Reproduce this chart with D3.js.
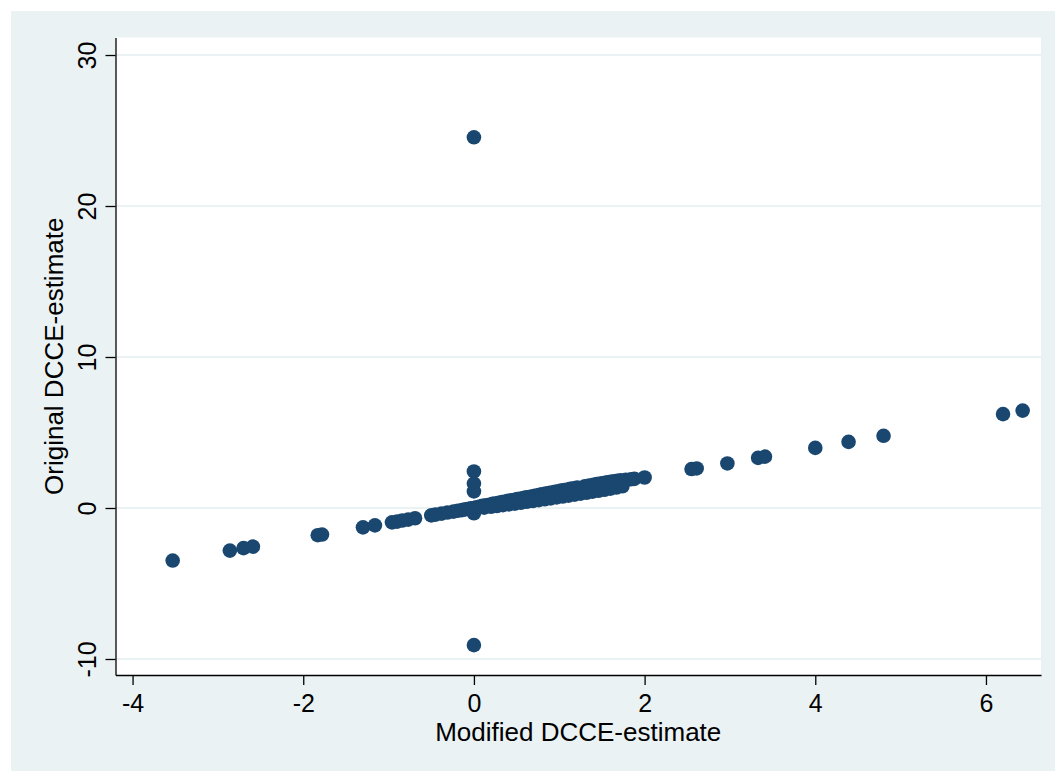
<!DOCTYPE html>
<html>
<head>
<meta charset="utf-8">
<script src="https://cdn.jsdelivr.net/npm/d3@7"></script>
<style>
  body { margin: 0; background: #fff; }
  text { font-family: "Liberation Sans", Arial, Helvetica, sans-serif; fill: #000; }
</style>
</head>
<body>
<script>
const outerWidth = 1055;
const outerHeight = 771;
const margin = { left: 115.5, top: 37.5, right: 14, bottom: 96 };

const innerWidth = outerWidth - margin.left - margin.right;
const innerHeight = outerHeight - margin.top - margin.bottom;

const xAxisLabelText = "Modified DCCE-estimate";
const yAxisLabelText = "Original DCCE-estimate";

const xTicks = [-4, -2, 0, 2, 4, 6];
const yTicks = [-10, 0, 10, 20, 30];

// estimates
const modifiedEst = [
  -3.53, -2.86, -2.70, -2.59, -1.83, -1.78, -1.30, -1.16,
  -0.96, -0.90, -0.84, -0.77, -0.69, -0.50, -0.45, -0.38, -0.31,
  -0.24, -0.19, -0.14, -0.10, -0.06, -0.03, 0.00,
  0.03, 0.07, 0.10, 0.14, 0.18, 0.22, 0.25, 0.29, 0.33, 0.37,
  0.40, 0.44, 0.48, 0.51, 0.55, 0.59, 0.62, 0.66, 0.70, 0.73,
  0.77, 0.80, 0.84, 0.88, 0.91, 0.95, 0.99, 1.02, 1.06, 1.10,
  1.13, 1.17, 1.21, 1.30, 1.35, 1.40, 1.44, 1.48, 1.52, 1.56,
  1.60, 1.64, 1.68, 1.72, 1.78, 1.84, 1.88,
  0.12, 0.20, 0.27, 0.34, 0.41, 0.48, 0.55, 0.62, 0.69, 0.76,
  0.83, 0.90, 0.97, 1.04, 1.11, 1.18, 1.25, 1.32, 1.39, 1.46,
  1.53, 1.60, 1.67, 1.74,
  2.00, 2.55, 2.61, 2.97, 3.33, 3.41, 4.00, 4.39, 4.80, 6.20, 6.43,
  0, 0, 0, 0, 0, 0
];
const originalEst = [
  -3.48, -2.82, -2.66, -2.56, -1.80, -1.76, -1.28, -1.15,
  -0.95, -0.90, -0.83, -0.77, -0.68, -0.49, -0.44, -0.37, -0.30,
  -0.24, -0.18, -0.14, -0.09, -0.06, -0.02, 0.00,
  0.05, 0.09, 0.14, 0.18, 0.22, 0.27, 0.30, 0.35, 0.39, 0.43,
  0.47, 0.51, 0.55, 0.59, 0.63, 0.67, 0.71, 0.75, 0.79, 0.83,
  0.87, 0.91, 0.95, 0.99, 1.03, 1.07, 1.11, 1.15, 1.19, 1.23,
  1.27, 1.31, 1.35, 1.44, 1.49, 1.54, 1.58, 1.62, 1.66, 1.70,
  1.74, 1.77, 1.80, 1.83, 1.86, 1.90, 1.93,
  0.02, 0.08, 0.13, 0.19, 0.24, 0.29, 0.35, 0.41, 0.46, 0.52,
  0.58, 0.64, 0.70, 0.76, 0.82, 0.88, 0.95, 1.01, 1.08, 1.14,
  1.21, 1.28, 1.36, 1.44,
  2.02, 2.58, 2.62, 2.95, 3.32, 3.40, 3.98, 4.38, 4.78, 6.22, 6.45,
  24.55, 2.42, 1.62, 1.10, -0.35, -9.08
];

const data = modifiedEst.map((m, i) => ({ modified: m, original: originalEst[i] }));

const svg = d3.select("body").append("svg")
  .attr("width", outerWidth)
  .attr("height", outerHeight);

// stata-ish background
svg.append("rect")
  .attr("x", 11).attr("y", 11)
  .attr("width", outerWidth - 11).attr("height", outerHeight - 11)
  .attr("fill", "#eaf2f3");

const g = svg.append("g")
  .attr("transform", `translate(${margin.left}, ${margin.top})`);

g.append("rect")
  .attr("width", innerWidth)
  .attr("height", innerHeight)
  .attr("fill", "#fff");

const xScale = d3.scaleLinear().domain([-4.2, 6.645]).range([0, innerWidth]);
const yScale = d3.scaleLinear().domain([-11.06, 31.16]).range([innerHeight, 0]);

// horizontal grid
g.selectAll("line.grid").data(yTicks).enter().append("line")
  .attr("class", "grid")
  .attr("x1", 0).attr("x2", innerWidth)
  .attr("y1", d => yScale(d)).attr("y2", d => yScale(d))
  .attr("stroke", "#eaf2f3")
  .attr("stroke-width", 2);

g.selectAll("circle").data(data).enter().append("circle")
  .attr("cx", d => xScale(d.modified))
  .attr("cy", d => yScale(d.original))
  .attr("r", 7.3)
  .attr("fill", "#1a476f");

// plain hyphen for negatives, like the original
const fmt = d => String(d);

const xAxis = d3.axisBottom(xScale).tickValues(xTicks).tickFormat(fmt)
  .tickSize(10).tickPadding(6).tickSizeOuter(0);
const yAxis = d3.axisLeft(yScale).tickValues(yTicks).tickFormat(fmt)
  .tickSize(10).tickSizeOuter(0);

const xAxisG = g.append("g")
  .attr("transform", `translate(0, ${innerHeight})`)
  .call(xAxis);
xAxisG.selectAll("text").style("font-size", "25px").attr("dy", "0.85em");

const yAxisG = g.append("g").call(yAxis);
yAxisG.selectAll("text")
  .style("font-size", "25px")
  .style("text-anchor", "middle")
  .attr("x", null).attr("dy", null)
  .attr("transform", "translate(-20, 0) rotate(-90)");

[xAxisG, yAxisG].forEach(a => {
  a.select(".domain").attr("stroke", "#000").attr("stroke-width", 1.3);
  a.selectAll(".tick line").attr("stroke", "#000").attr("stroke-width", 1.3);
});

g.append("text")
  .style("text-anchor", "middle")
  .style("font-size", "26px")
  .attr("x", innerWidth / 2)
  .attr("y", 741 - margin.top)
  .text(xAxisLabelText);

g.append("text")
  .style("text-anchor", "middle")
  .style("font-size", "26px")
  .attr("transform", `translate(${63 - margin.left}, ${innerHeight / 2}) rotate(-90)`)
  .text(yAxisLabelText);
</script>
</body>
</html>
